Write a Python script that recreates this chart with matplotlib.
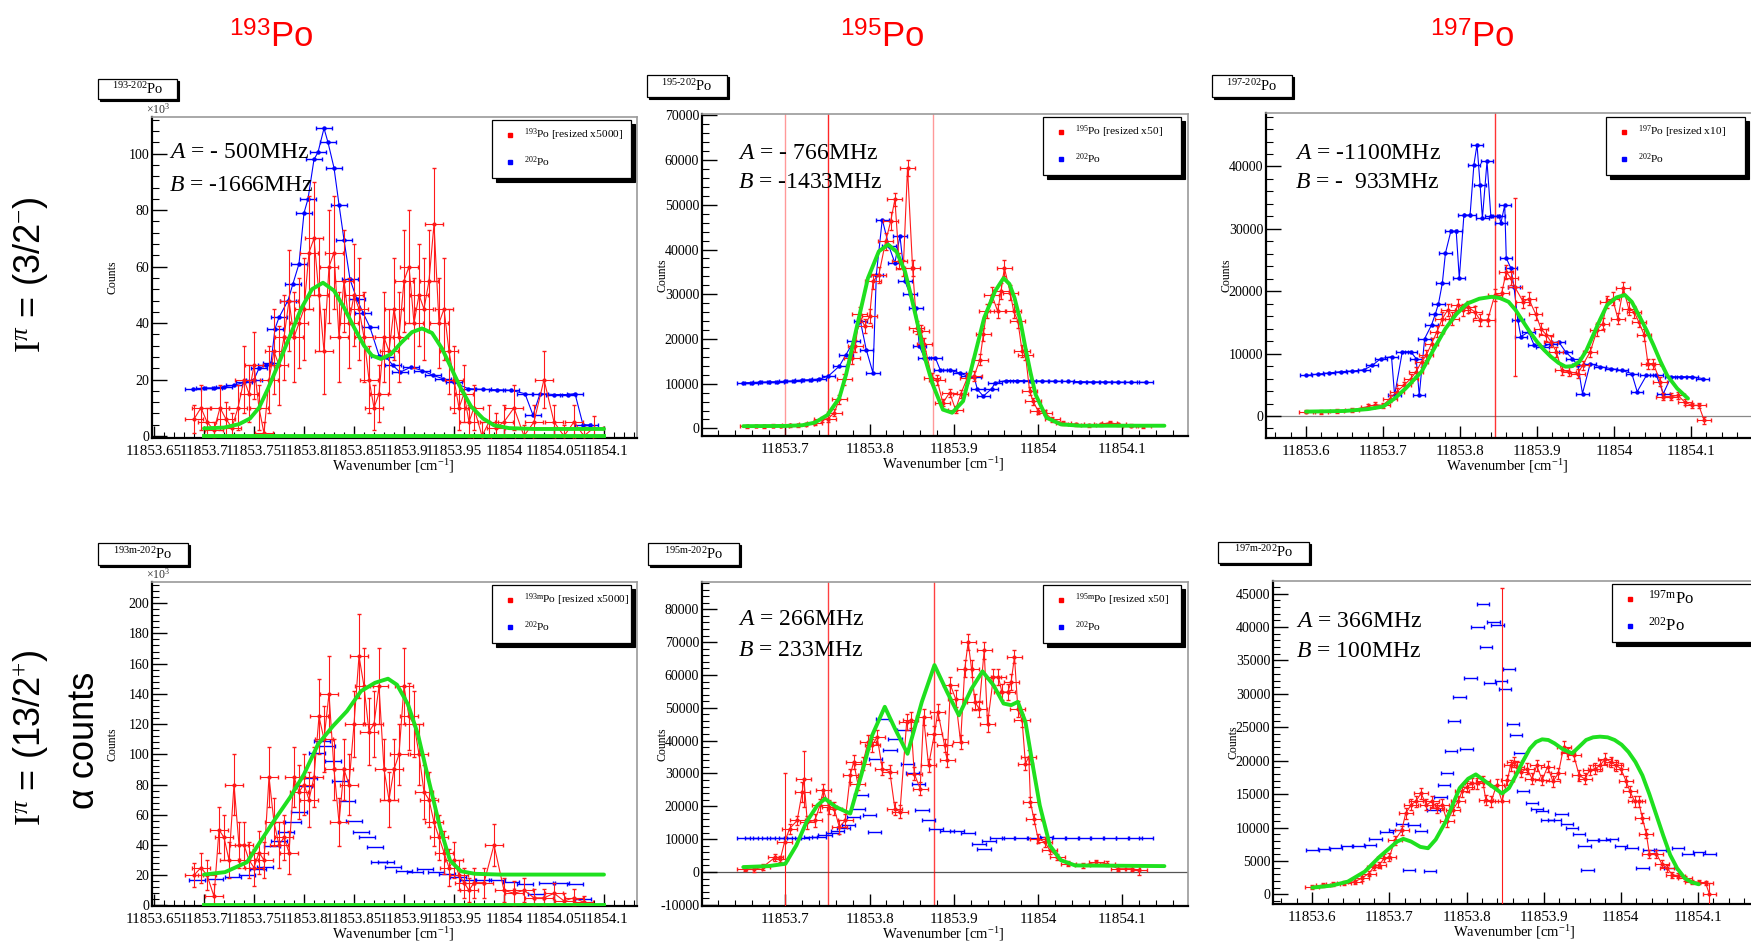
import numpy as np
import matplotlib
matplotlib.use("Agg")
import matplotlib.pyplot as plt
from matplotlib.ticker import MultipleLocator, FuncFormatter
from matplotlib.patches import Rectangle

plt.rcParams['mathtext.fontset'] = 'custom'
plt.rcParams['mathtext.rm'] = 'Liberation Serif'
plt.rcParams['mathtext.it'] = 'Liberation Serif:italic'
plt.rcParams['mathtext.bf'] = 'Liberation Serif:bold'
plt.rcParams['mathtext.sf'] = 'Liberation Sans'
plt.rcParams['font.family'] = ['Liberation Serif', 'DejaVu Sans']

# ---------------- DATA (wavenumber offsets from 11853 cm^-1) ----------------
WN0 = 11853.0

# 193Po ground (3/2-) -- counts in units of 10^3
b193_x = [.689,.700,.710,.720,.730,.740,.750,.755,.762,.767,.771,.775,.784,.789,.795,.800,.804,.810,.814,.820,
          .824,.830,.835,.840,.846,.853,.859,.866,.875,.882,.889,.896,.907,.918,.929,.939,.950,.964,.979,.993,
          1.007,1.021,1.029,1.036,1.050,1.064,1.071,1.079,1.086]
b193_y = [16.5,17,17,17.5,18,19,20,24,25,26,38,42,48,54,61,79,84,98,100.5,109,
          104,95,82,69.5,55.5,48.4,43.7,38.5,28.5,28,25,22.6,24.4,23.2,21.5,20.3,19,16.8,16.5,16.4,
          16.2,15,7.4,15,14.7,14.7,15,4,3.9]
r193_x = [.690,.697,.703,.710,.716,.722,.728,.734,.740,.745,.750,.755,.760,.765,.770,.775,.780,.785,.790,.795,
          .800,.805,.810,.815,.820,.825,.830,.835,.840,.845,.850,.855,.860,.865,.870,.875,.880,.885,.890,.895,
          .900,.905,.910,.915,.920,.925,.930,.935,.940,.945,.950,.955,.960,.965,.970,.978,.985,.992,1.000,1.010,
          1.020,1.030,1.040,1.050,1.060,1.070,1.080,1.090]
r193_y = [6,10,5,2,10,6,3,10,20,15,25,10,1,20,30,25,35,48,35,40,
          45,65,70,50,30,60,65,35,55,40,50,45,35,20,10,15,35,30,45,35,
          55,60,40,50,45,55,75,40,45,30,20,10,15,5,10,0,5,3,5,10,
          0,5,20,5,0,5,0,3]
r193_e = [5,8,5,3,8,6,5,8,12,10,12,8,4,12,15,14,15,18,16,16,
          18,20,20,20,15,20,20,16,18,16,18,18,16,12,8,10,16,15,18,16,
          18,20,16,18,18,18,20,16,18,15,12,8,10,6,8,5,6,5,6,8,
          4,6,10,6,4,6,3,4]
f193_x = [.700,.720,.735,.746,.755,.764,.775,.786,.797,.808,.819,.830,.840,.850,.860,.868,.877,.887,.897,.908,
          .918,.928,.938,.948,.957,.967,.979,.990,1.005,1.030,1.100]
f193_y = [2.7,3,4.2,6.2,10,16.8,26,35.5,45,52,54.3,51.5,45.5,38.5,32,28.5,27.3,29,33,36.8,
          38.1,36.5,31,23.5,16.8,10.5,6.2,3.8,2.8,2.5,2.5]
z193_x = [.700, 1.100]
z193_y = [0, 0]

# 195Po ground (3/2-)
b195_x = [.650,.660,.670,.680,.690,.700,.710,.720,.730,.740,.751,.764,.772,.781,.789,.796,.804,.808,.815,.823,
          .830,.836,.842,.848,.855,.859,.865,.878,.884,.895,.907,.916,.924,.928,.935,.945,.949,.962,.975,.990,
          1.005,1.020,1.035,1.050,1.065,1.080,1.095,1.110,1.128]
b195_y = [10200,10250,10300,10400,10450,10500,10650,10800,10900,11000,11700,13900,16500,19500,24000,17600,12400,34400,46700,40700,
          37000,43000,32900,30000,27000,18400,15800,15800,13000,13000,12400,11700,11500,8700,7200,8900,10200,10700,10700,10650,
          10600,10550,10500,10450,10400,10400,10350,10300,10300]
r195_x = [.655,.665,.675,.685,.695,.705,.715,.725,.735,.743,.751,.758,.764,.770,.779,.783,.788,.794,.800,.804,
          .811,.819,.825,.830,.835,.840,.845,.851,.856,.861,.865,.874,.880,.887,.895,.902,.908,.916,.924,.931,
          .935,.939,.945,.952,.956,.960,.967,.971,.976,.981,.985,.990,.994,1.000,1.008,1.017,1.030,1.045,1.060,1.075,
          1.085,1.095,1.110,1.125]
r195_y = [500,550,500,600,550,650,700,900,1300,2000,2200,3500,6500,11000,15800,18400,25500,22900,25100,32900,
          34400,41800,46300,51200,37400,35900,58200,35900,22500,21700,18800,11300,10900,5700,8000,4200,7600,11300,11700,15400,
          21000,26200,29900,26200,30700,35900,30300,26200,24000,17300,16500,8300,6100,3900,3500,2000,1200,900,700,900,
          1300,900,600,500]
r195_e = [300,300,300,300,300,300,300,400,500,600,700,800,1000,1200,1400,1400,1600,1500,1600,1700,
          1800,1900,2000,1500,1800,1800,1800,1800,1500,1500,1400,1100,1100,800,900,700,900,1100,1100,1300,
          1400,1600,1700,1600,1700,1800,1700,1600,1500,1300,1300,900,800,600,600,500,400,300,300,300,
          400,300,300,300]
f195_x = [.650,.700,.720,.735,.750,.764,.772,.781,.790,.798,.811,.822,.832,.842,.850,.858,.866,.875,.887,.898,
          .911,.923,.936,.949,.959,.966,.972,.979,.985,.991,.997,1.010,1.027,1.050,1.150]
f195_y = [500,550,700,1300,3000,6800,12000,19500,27000,33600,39600,41100,39500,35100,29000,22500,15500,9800,4200,3500,
          6100,15000,24700,30700,33600,32300,29200,24000,18000,12500,7600,2400,900,600,600]
v195 = [.700, .751, .875]

# 197Po ground (3/2-)
b197_x = [.600,.615,.630,.645,.660,.675,.686,.697,.711,.715,.725,.736,.743,.747,.754,.763,.768,.772,.777,.781,
          .788,.795,.799,.805,.813,.818,.822,.826,.829,.835,.840,.851,.853,.858,.860,.866,.870,.875,.879,.889,
          .896,.907,.918,.928,.937,.946,.953,.959,.969,.982,.996,1.010,1.023,1.030,1.042,1.055,1.064,1.074,1.087,1.101,
          1.115]
b197_y = [6500,6700,6900,7100,7200,7400,8100,9200,9500,3300,10300,10300,9200,3300,12400,14600,16400,18000,21300,26100,
          29600,29600,22100,32200,32200,40300,43500,37100,31700,40800,32000,32000,30900,33800,25300,23700,20700,15400,12700,13500,
          11400,11100,11600,11900,10300,9200,8100,3600,8400,7900,7600,7300,6800,3900,6500,6500,3600,6300,6300,6300,
          6000]
r197_x = [.600,.620,.640,.660,.680,.690,.700,.709,.718,.727,.736,.743,.750,.756,.763,.770,.777,.784,.790,.797,
          .804,.810,.819,.826,.836,.845,.854,.860,.866,.871,.882,.889,.898,.905,.912,.918,.925,.932,.941,.953,
          .959,.969,.978,.985,.991,.998,1.005,1.012,1.019,1.026,1.032,1.039,1.044,1.051,1.060,1.064,1.074,1.083,1.092,1.101,
          1.110,1.117]
r197_y = [700,600,800,1000,1500,1800,1700,2800,3900,4900,6000,7100,8700,9700,11600,13500,15600,17000,15600,17800,
          17000,17500,16700,15400,15400,19400,19700,23100,22100,20700,18300,18800,16400,14000,13000,11900,10300,7300,7100,6800,
          8100,10300,13800,14800,18300,18800,15600,20500,17200,16700,15100,13000,8400,8400,5500,3100,3100,3300,2200,1700,
          1700,-700]
r197_e = [300,300,300,300,400,400,400,500,600,600,700,700,800,800,900,900,1000,1000,1000,1000,
          1000,1000,1000,1000,1000,1000,1000,1100,1100,14300,1000,1000,1000,900,900,900,800,700,700,700,
          700,800,900,900,1000,1000,900,1000,1000,1000,900,900,800,800,700,600,600,600,500,400,
          400,600]
f197_x = [.600,.650,.680,.700,.715,.730,.750,.765,.781,.795,.809,.825,.841,.852,.863,.872,.882,.891,.900,.909,
          .918,.928,.937,.946,.955,.964,.973,.982,.991,1.003,1.014,1.023,1.032,1.042,1.051,1.060,1.069,1.082,1.096]
f197_y = [700,800,1100,1500,2800,4500,7100,10500,14000,16300,18000,18800,19100,18900,18300,17000,15100,13400,11900,10600,
          9500,8500,7900,8000,8700,10500,13000,15500,17800,19000,19400,18300,16200,13800,11400,8800,6500,4400,2800]
v197 = [.845]

# 193mPo (13/2+) -- counts in units of 10^3
b193m_x = [.693,.711,.729,.743,.754,.761,.768,.775,.782,.789,.795,.800,.805,.813,.818,.823,.829,.836,.843,.850,
           .857,.863,.871,.875,.882,.889,.900,.911,.921,.932,.943,.954,.964,.979,.993,1.007,1.021,1.032,1.043,1.057,
           1.071,1.079]
b193m_y = [16.9,17.6,18.7,19.8,24.2,25.3,39.6,42.9,48.4,55,61.5,79,84.6,101,109,105.5,95.6,82.4,69.2,56,
           48.8,45,38.5,28.6,28.6,25.3,22.6,22,24.2,22,20.9,18.7,16.5,16.5,16.5,15.4,14.3,7.7,14.7,14.7,
           14.3,4.4]
r193m_x = [.690,.697,.703,.710,.715,.720,.725,.730,.735,.740,.745,.750,.755,.760,.765,.770,.775,.780,.785,.790,
           .795,.800,.805,.810,.815,.820,.825,.830,.835,.840,.845,.850,.855,.860,.865,.870,.875,.880,.885,.890,
           .895,.900,.905,.910,.915,.920,.925,.930,.935,.940,.945,.950,.955,.960,.965,.970,.980,.990,1.000,1.010,
           1.020,1.030,1.040,1.050,1.060,1.070,1.080]
r193m_y = [20,25,20,6,50,45,30,80,40,40,30,25,35,30,85,55,40,45,35,85,
           75,80,70,85,125,110,140,90,55,90,80,120,165,145,115,120,145,90,70,90,
           100,145,125,120,100,75,70,55,45,35,25,30,20,15,10,15,15,40,10,8,
           10,5,5,8,3,5,2]
r193m_e = [8,10,10,8,15,15,12,20,15,15,12,12,14,12,20,16,15,15,14,20,
           18,20,18,20,25,22,25,20,16,20,20,22,28,25,22,22,25,20,18,20,
           20,25,22,22,20,18,18,16,15,14,12,12,10,10,8,10,10,14,8,8,
           8,6,6,7,5,6,4]
f193m_x = [.700,.721,.743,.757,.771,.786,.800,.814,.829,.843,.857,.871,.884,.893,.904,.914,.925,.936,.946,.957,
           .971,.996,1.100]
f193m_y = [20.4,22,28.6,42.9,57,71.4,86.8,106.6,118.7,128.6,141.8,147.3,150,146,133,113,82,51.6,29.7,22.6,
           20.9,20.4,20.4]
z193m_x = [.700, 1.100]
z193m_y = [0, 0]

# 195mPo (13/2+)
b195m_x = [.650,.660,.670,.680,.690,.700,.710,.720,.730,.740,.747,.756,.762,.769,.775,.781,.786,.790,.800,.806,
           .807,.815,.824,.830,.841,.845,.851,.858,.862,.870,.879,.892,.904,.917,.930,.936,.942,.951,.965,.980,
           .995,1.010,1.025,1.040,1.055,1.070,1.085,1.100,1.115,1.128]
b195m_y = [10300,10300,10350,10350,10400,10400,10450,10500,10550,10700,11400,11900,12400,13400,14400,16750,19300,23550,17500,12200,
           34500,46700,37000,40400,43100,33000,30250,26900,18800,15700,13200,12400,12400,11900,8600,7100,9300,10350,10500,10500,
           10500,10550,10500,10500,10450,10400,10400,10350,10350,10300]
r195m_x = [.652,.663,.673,.688,.694,.699,.705,.714,.720,.722,.726,.735,.741,.745,.752,.758,.764,.771,.777,.781,
           .786,.792,.798,.803,.809,.815,.824,.830,.836,.844,.849,.853,.860,.864,.870,.877,.881,.889,.892,.896,
           .902,.908,.913,.917,.921,.925,.930,.936,.940,.947,.953,.957,.964,.968,.972,.976,.981,.985,.989,.991,
           .995,1.000,1.008,1.014,1.023,1.036,1.053,1.069,1.082,1.095,1.112,1.120]
r195m_y = [1000,800,1500,4500,4000,9100,13200,15700,24400,28400,15200,15700,20300,24900,19800,19300,13700,15700,29400,33500,
           26900,33000,39600,38600,41100,31500,30500,19300,18300,45700,46200,29900,25400,47200,32500,42100,48700,38600,34000,56900,
           52800,39600,61900,70000,61900,51800,49700,67500,45200,59400,59400,54800,54800,57900,65500,49700,46200,33000,35000,21300,
           16200,10200,9100,6600,4600,2500,2000,3000,2500,1000,1000,500]
r195m_e = [800,800,800,1000,1000,21000,1500,1500,3000,8500,2000,2000,2000,2000,2000,2000,2000,2000,2000,2000,
           2000,2000,2000,2000,2000,2000,2000,2000,2000,2500,2500,2000,2000,2500,2000,2500,2500,2000,2000,2500,
           2500,2000,2500,2500,2500,2500,2500,2500,2500,2500,2500,2500,2500,2500,2000,2500,2000,2000,2000,1500,
           1500,1500,1500,1200,1000,800,800,800,800,700,700,1500]
f195m_x = [.650,.680,.700,.713,.725,.738,.747,.760,.777,.790,.803,.818,.830,.845,.862,.877,.892,.906,.921,.934,
           .947,.959,.968,.976,.985,.993,1.002,1.014,1.027,1.044,1.150]
f195m_y = [1500,1800,2500,8100,15200,20300,22300,19800,17800,29400,41600,50300,43700,36000,51800,63000,54800,47700,55800,61100,
           56900,51300,50800,51800,45700,33500,20300,8100,3600,2000,1800]
v195m = [.751, .877]

# 197mPo (13/2+)
b197m_x = [.600,.615,.630,.645,.660,.675,.682,.696,.707,.716,.725,.732,.741,.753,.757,.766,.771,.775,.780,.784,
           .791,.800,.805,.814,.821,.825,.830,.835,.840,.845,.850,.855,.860,.864,.869,.873,.885,.891,.898,.905,
           .914,.923,.930,.937,.946,.953,.957,.964,.978,.989,1.000,1.014,1.028,1.037,1.051,1.064,1.074,1.087,1.101,1.115]
b197m_y = [6600,6800,7000,7200,7300,7400,8300,9400,9600,10600,3600,10400,9500,3500,12600,14500,16400,18100,21400,26000,
           29500,21800,32400,40000,43400,37000,31600,40700,40300,32000,30700,33800,25500,23900,21100,15500,13600,12800,12400,11100,
           11100,12000,10600,10000,9000,7300,3600,8100,8100,8300,7300,6900,4000,6600,6600,3900,6900,6100,6400,6100]
r197m_x = [.600,.614,.627,.641,.655,.664,.673,.680,.687,.693,.700,.707,.716,.721,.728,.734,.741,.748,.755,.762,
           .768,.775,.782,.789,.794,.800,.807,.814,.821,.825,.832,.839,.846,.853,.857,.862,.866,.871,.878,.885,
           .891,.898,.905,.912,.919,.926,.932,.939,.946,.953,.960,.967,.973,.980,.987,.994,1.000,1.007,1.012,1.018,
           1.023,1.028,1.033,1.037,1.046,1.053,1.060,1.067,1.074,1.083,1.092,1.101,1.110,1.115]
r197m_y = [1150,1400,1500,1650,1900,2400,3100,4100,4400,5400,5600,8100,9600,12100,13400,13900,15100,13400,13900,12900,
           13400,10900,12600,13900,15400,16100,16600,16600,16900,14100,13900,16400,13900,17100,19300,19800,19100,18300,18800,17300,
           19300,17100,19100,16900,18100,22100,21100,20800,17800,17300,18600,18800,19300,20300,19800,19300,18800,16900,15400,13900,
           13900,11400,9100,6100,6100,4600,3900,2900,2800,2400,1900,1800,1650,0]
r197m_e = [300,300,300,300,300,400,400,500,500,600,600,700,700,800,800,800,800,800,800,800,
           800,800,800,800,800,800,800,800,800,800,800,800,32000,800,800,800,800,800,800,800,
           800,800,800,800,800,800,800,800,800,800,800,800,800,800,800,800,800,800,800,800,
           800,700,700,600,600,500,500,400,400,400,300,300,300,1700]
f197m_x = [.600,.625,.646,.668,.687,.700,.710,.718,.728,.740,.750,.760,.773,.791,.802,.812,.828,.846,.855,.864,
           .873,.882,.890,.898,.906,.914,.925,.937,.946,.955,.964,.973,.983,.992,1.001,1.010,1.019,1.028,1.037,1.046,
           1.055,1.064,1.073,1.083,1.092,1.101]
f197m_y = [1000,1300,1900,3400,5600,6900,7900,8300,7900,7100,6900,8200,10900,15900,17300,17950,16600,15100,15900,17800,
           19900,21800,22800,23200,23100,22600,21700,21100,22100,23100,23500,23600,23500,23100,22400,21300,19800,17800,15000,11900,
           8800,5900,3900,2400,1800,1500]

isotope_titles = ["193", "195", "197"]
box_titles = ["193\u2010202", "195\u2010202", "197\u2010202",
              "193\\mathrm{m}\u2010202", "195\\mathrm{m}\u2010202", "197\\mathrm{m}\u2010202"]
legend_red = [r"$^{193}$Po [resized x5000]", r"$^{195}$Po [resized x50]", r"$^{197}$Po [resized x10]",
              r"$^{193\mathrm{m}}$Po [resized x5000]", r"$^{195\mathrm{m}}$Po [resized x50]", r"$^{197\mathrm{m}}$Po"]
legend_blue = r"$^{202}$Po"
AB_text = [(r"$A$ = - 500MHz", r"$B$ = -1666MHz"),
           (r"$A$ = - 766MHz", r"$B$ = -1433MHz"),
           (r"$A$ = -1100MHz", r"$B$ = -  933MHz"),
           None,
           (r"$A$ = 266MHz", r"$B$ = 233MHz"),
           (r"$A$ = 366MHz", r"$B$ = 100MHz")]

# ---------------- FIGURE ----------------
W, H = 1751, 941
fig = plt.figure(figsize=(W / 100, H / 100), dpi=100)

def fig_axes(x0, y0, x1, y1):
    return fig.add_axes([x0 / W, 1 - y1 / H, (x1 - x0) / W, (y1 - y0) / H])

def fig_box(x0, y0, x1, y1, sh=3):
    shadow = Rectangle(((x0 + sh) / W, 1 - (y1 + sh) / H), (x1 - x0) / W, (y1 - y0) / H,
                       transform=fig.transFigure, facecolor='black', edgecolor='black', lw=0.8, zorder=20)
    box = Rectangle((x0 / W, 1 - y1 / H), (x1 - x0) / W, (y1 - y0) / H,
                    transform=fig.transFigure, facecolor='white', edgecolor='black', lw=0.9, zorder=21)
    fig.add_artist(shadow)
    fig.add_artist(box)

panels = [
    dict(box=(152, 117, 637, 438), xlim=(11853.648, 11854.133), ylim=(-0.7, 113), xmaj=0.05, xmin=0.01,
         ymaj=20, ymin=4, bline=True, scale=True, xlab=0.498, xlmax=11854.12),
    dict(box=(702, 114, 1188, 436), xlim=(11853.601, 11854.178), ylim=(-1700, 70300), xmaj=0.1, xmin=0.02,
         ymaj=10000, ymin=2000, bline=True, scale=False, xlab=0.496, xlmax=11854.15),
    dict(box=(1266, 113, 1755, 438), xlim=(11853.548, 11854.183), ylim=(-3530, 48570), xmaj=0.1, xmin=0.02,
         ymaj=10000, ymin=2000, bline=True, scale=False, xlab=0.494, xlmax=11854.15),
    dict(box=(152, 582, 637, 906), xlim=(11853.648, 11854.133), ylim=(-0.4, 214), xmaj=0.05, xmin=0.01,
         ymaj=20, ymin=4, bline=False, scale=True, xlab=0.498, xlmax=11854.12),
    dict(box=(702, 582, 1188, 906), xlim=(11853.601, 11854.178), ylim=(-10350, 88300), xmaj=0.1, xmin=0.02,
         ymaj=10000, ymin=2000, bline=False, scale=False, xlab=0.496, xlmax=11854.15),
    dict(box=(1273, 581, 1755, 904), xlim=(11853.549, 11854.174), ylim=(-1450, 46900), xmaj=0.1, xmin=0.02,
         ymaj=5000, ymin=1000, bline=False, scale=False, xlab=0.501, xlmax=11854.15),
]
datasets = [
    (b193_x, b193_y, r193_x, r193_y, r193_e, f193_x, f193_y),
    (b195_x, b195_y, r195_x, r195_y, r195_e, f195_x, f195_y),
    (b197_x, b197_y, r197_x, r197_y, r197_e, f197_x, f197_y),
    (b193m_x, b193m_y, r193m_x, r193m_y, r193m_e, f193m_x, f193m_y),
    (b195m_x, b195m_y, r195m_x, r195m_y, r195m_e, f195m_x, f195m_y),
    (b197m_x, b197m_y, r197m_x, r197m_y, r197m_e, f197m_x, f197m_y),
]

def make_xfmt(vmax):
    return FuncFormatter(lambda v, p: ('%.10g' % round(v, 6)) if v <= vmax else '')

y_fmt = FuncFormatter(lambda v, p: '%.10g' % round(v, 6))
GREEN = '#1fe01f'
axes = []
for i, (cfg, d) in enumerate(zip(panels, datasets)):
    ax = fig_axes(*cfg['box'])
    axes.append(ax)
    bx, by, rx, ry, re_, fx, fy = d
    ax.set_xlim(*cfg['xlim'])
    ax.set_ylim(*cfg['ylim'])
    # blue 202Po reference
    ax.errorbar(WN0 + np.asarray(bx), by, xerr=0.008,
                fmt='-' if cfg['bline'] else 'none', marker='o', ms=2.2, color='#0000ff',
                lw=0.8, elinewidth=1.0, capsize=1.5, zorder=3)
    # red isotope data
    ax.errorbar(WN0 + np.asarray(rx), ry, xerr=0.009, yerr=re_, fmt='-', marker='o', ms=2.0,
                color='#ff1a1a', lw=0.8, elinewidth=0.8, capsize=1.5, zorder=4)
    # green fit
    ax.plot(WN0 + np.asarray(fx), fy, color=GREEN, lw=2.8, solid_joinstyle='round',
            solid_capstyle='round', zorder=5)
    # axis styling (ROOT-like)
    ax.xaxis.set_major_locator(MultipleLocator(cfg['xmaj']))
    ax.xaxis.set_minor_locator(MultipleLocator(cfg['xmin']))
    ax.yaxis.set_major_locator(MultipleLocator(cfg['ymaj']))
    ax.yaxis.set_minor_locator(MultipleLocator(cfg['ymin']))
    ax.xaxis.set_major_formatter(make_xfmt(cfg['xlmax']))
    ax.yaxis.set_major_formatter(y_fmt)
    ax.tick_params(axis='both', which='both', direction='in', top=False, right=False,
                   labelsize=10, colors='black')
    ax.tick_params(axis='x', which='major', labelsize=10.8)
    ax.tick_params(axis='y', which='major', length=11, width=1.0, pad=2)
    ax.tick_params(axis='y', which='minor', length=5, width=0.8)
    ax.tick_params(axis='x', which='major', length=9, width=1.0, pad=5)
    ax.tick_params(axis='x', which='minor', length=4.5, width=0.8)
    for s in ('top', 'right'):
        ax.spines[s].set_color('#9a9a9a')
        ax.spines[s].set_linewidth(1.2)
    for s in ('left', 'bottom'):
        ax.spines[s].set_color('black')
        ax.spines[s].set_linewidth(1.6)
    ax.set_xlabel(r"Wavenumber [cm$^{-1}$]", fontsize=10.5)
    ax.xaxis.set_label_coords(cfg['xlab'], -19 / (cfg['box'][3] - cfg['box'][1]))
    ax.set_ylabel("Counts", fontsize=8.5)
    ax.yaxis.set_label_coords(-34 / (cfg['box'][2] - cfg['box'][0]), 0.5)
    if cfg['scale']:
        fig.text((cfg['box'][0] - 6) / W, 1 - (cfg['box'][1] - 8) / H, r"$\times$10$^{3}$", fontsize=8.5,
                 ha='left', va='center', color='#333333')

# special zero-fit lines (193Po panels) and reference lines
axes[0].plot(WN0 + np.asarray(z193_x), z193_y, color=GREEN, lw=2.8, zorder=5)
axes[3].plot(WN0 + np.asarray(z193m_x), z193m_y, color=GREEN, lw=2.8, zorder=5)
for v, a in zip(v195, [0.4, 0.85, 0.4]):
    axes[1].axvline(WN0 + v, color='red', lw=1.0, alpha=a, zorder=2)
for v in v197:
    axes[2].axvline(WN0 + v, color='red', lw=1.0, alpha=0.8, zorder=2)
for v in v195m:
    axes[4].axvline(WN0 + v, color='red', lw=1.0, alpha=0.75, zorder=2)
axes[2].axhline(0, color='#888888', lw=0.9, zorder=1)
axes[4].axhline(0, color='#555555', lw=0.9, zorder=1)

# A / B annotations
ab_pos = [(0.036, 0.888, 0.788), (0.075, 0.876, 0.786), (0.06, 0.874, 0.785), None,
          (0.075, 0.883, 0.790), (0.047, 0.876, 0.783)]
for ax, t, pos in zip(axes, AB_text, ab_pos):
    if t is None:
        continue
    ax.text(pos[0], pos[1], t[0], transform=ax.transAxes, fontsize=17, ha='left', va='center', zorder=10)
    ax.text(pos[0], pos[2], t[1], transform=ax.transAxes, fontsize=17, ha='left', va='center', zorder=10)

# small title boxes
title_boxes = [(98, 79, 177, 99), (647, 75, 727, 97), (1212, 75, 1292, 97),
               (98, 543, 188, 565), (648, 543, 739, 565), (1218, 542, 1309, 563)]
for (x0, y0, x1, y1), t in zip(title_boxes, box_titles):
    fig_box(x0, y0, x1, y1, sh=2)
    fig.text((x0 + x1) / 2 / W, 1 - (y0 + y1) / 2 / H, r"$^{%s}$Po" % t, fontsize=10.5,
             ha='center', va='center', zorder=22)

# legend boxes
leg_boxes = [(492, 120, 631, 178), (1043, 117, 1181, 175), (1606, 117, 1745, 175),
             (492, 585, 631, 643), (1043, 585, 1181, 643), (1612, 584, 1755, 642)]
for i, ((x0, y0, x1, y1), t) in enumerate(zip(leg_boxes, legend_red)):
    fig_box(x0, y0, x1, y1, sh=4)
    fs = 12 if i == 5 else 8.2
    mx = x0 + 18
    tx = x0 + 32 if i != 5 else x0 + 36
    ya = y0 + 15
    yb = y0 + 42
    fig.add_artist(plt.Line2D([mx / W], [1 - ya / H], marker='s', ms=2.2, color='red',
                              transform=fig.transFigure, zorder=23))
    fig.add_artist(plt.Line2D([mx / W], [1 - yb / H], marker='s', ms=2.2, color='blue',
                              transform=fig.transFigure, zorder=23))
    fig.text(tx / W, 1 - ya / H, t, fontsize=fs, ha='left', va='center', zorder=23)
    fig.text(tx / W, 1 - yb / H, legend_blue, fontsize=fs, ha='left', va='center', zorder=23)

# big isotope titles
for xc, t in zip([271, 882, 1472], isotope_titles):
    fig.text(xc / W, 1 - 38 / H, r"$^{\mathsf{%s}}$Po" % t, fontsize=25, color='red',
             family='Liberation Sans', ha='center', va='center')

# row labels
fig.text(31 / W, 1 - 275 / H, r"$\mathrm{I}^{\pi}$ = (3/2$^{-}$)", rotation=90, fontsize=26,
         family='Liberation Sans', ha='center', va='center')
fig.text(31 / W, 1 - 738 / H, r"$\mathrm{I}^{\pi}$ = (13/2$^{+}$)", rotation=90, fontsize=26,
         family='Liberation Sans', ha='center', va='center')
fig.text(84 / W, 1 - 740 / H, "α counts", rotation=90, fontsize=26,
         family='Liberation Sans', ha='center', va='center')

fig.savefig("out.png", dpi=100)
